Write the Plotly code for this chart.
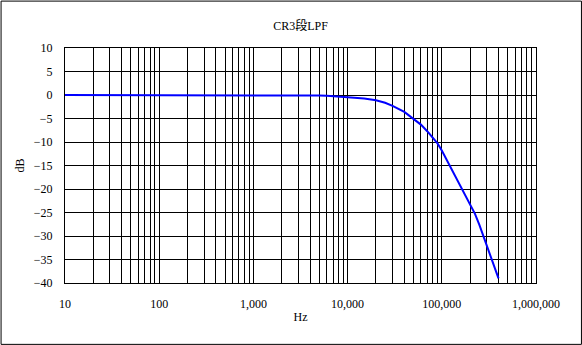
import plotly.graph_objects as go

# Data
freq_hz = [10, 100, 1000, 2000, 3000, 4000, 5000, 6000, 7000, 8000, 9000,
           10000, 15000, 20000, 25000, 30000, 40000, 50000, 60000, 70000,
           80000, 90000, 100000, 120000, 150000, 165000, 200000, 225000,
           250000, 275000, 300000, 350000, 400000]
gain_db = [0, 0, 0, -0.02, -0.04, -0.08, -0.12, -0.17, -0.23, -0.3, -0.38,
           -0.48, -0.75, -1.1, -1.65, -2.3, -3.6, -5.0, -6.3, -7.7,
           -9.0, -10.3, -11.8, -14.9, -18.5, -20.0, -23.4, -25.3,
           -27.6, -29.9, -32.2, -35.5, -39.0]

decades = [10, 100, 1000, 10000, 100000, 1000000]
decade_labels = ["10", "100", "1,000", "10,000", "100,000", "1,000,000"]
y_ticks = [10, 5, 0, -5, -10, -15, -20, -25, -30, -35, -40]

# gridline positions: 1..9 within each decade
grid_vals, grid_text = [], []
for d, lab in zip(decades, decade_labels):
    if d == decades[-1]:
        grid_vals.append(d); grid_text.append(lab)
        break
    for m in range(1, 10):
        grid_vals.append(d * m)
        grid_text.append(lab if m == 1 else "")

W, H = 582, 345
ml, mr, mt, mb = 64.5, 46, 47.5, 62
pw, ph = W - ml - mr, H - mt - mb

font_family = "Liberation Serif, Times New Roman, Noto Sans CJK JP, serif"

fig = go.Figure()
fig.add_trace(go.Scatter(x=freq_hz, y=gain_db, mode="lines",
                         line=dict(color="#0000FF", width=2),
                         showlegend=False, hoverinfo="x+y"))

fig.update_layout(
    width=W, height=H,
    margin=dict(l=ml, r=mr, t=mt, b=mb, pad=0),
    paper_bgcolor="white", plot_bgcolor="white",
    font=dict(family=font_family, size=12, color="black"),
    title=dict(text="CR3段LPF", x=0.5, xref="paper", xanchor="center",
               y=1 - 26 / H, yref="container", yanchor="middle",
               font=dict(size=12, family=font_family, color="black")),
    xaxis=dict(type="log", range=[1, 6], tickvals=grid_vals, ticktext=grid_text,
               showgrid=True, gridcolor="black", gridwidth=1,
               showline=True, linecolor="black", linewidth=1, mirror=True,
               ticks="", zeroline=False, ticklabelstandoff=10,
               title=dict(text="Hz", standoff=2, font=dict(size=12)),
               tickfont=dict(size=12)),
    yaxis=dict(range=[-40, 10], tickvals=y_ticks,
               showgrid=True, gridcolor="black", gridwidth=1,
               showline=True, linecolor="black", linewidth=1, mirror=True,
               ticks="", zeroline=False, ticklabelstandoff=9,
               title=dict(text="dB", standoff=6, font=dict(size=12)),
               tickfont=dict(size=12)),
    shapes=[dict(type="rect", xref="paper", yref="paper",
                 x0=(0.5 - ml) / pw, x1=(W - 0.5 - ml) / pw,
                 y0=-(mb - 0.5) / ph, y1=1 + (mt - 0.5) / ph,
                 line=dict(color="black", width=1), layer="above")],
)

fig.write_html("out.html")
